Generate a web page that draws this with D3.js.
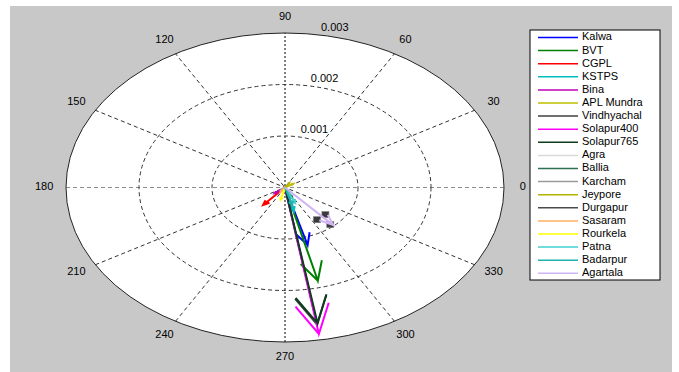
<!DOCTYPE html>
<html><head><meta charset="utf-8">
<script src="https://cdn.jsdelivr.net/npm/d3@7"></script>
<style>
html,body{margin:0;padding:0;background:#fff;}
svg{display:block;font-family:"Liberation Sans",Arial,sans-serif;}
</style></head>
<body>
<svg id="chart" width="679" height="372"></svg>
<script>
// ---- data (compass vectors: real / imaginary parts) ----
const names = ["Kalwa","BVT","CGPL","KSTPS","Bina","APL Mundra","Vindhyachal","Solapur400","Solapur765","Agra","Ballia","Karcham","Jeypore","Durgapur","Sasaram","Rourkela","Patna","Badarpur","Agartala"];
const reParts = [0.00031, 0.00045, -0.00030, 0.00012, -0.00014, 0.00011, 0.00044, 0.000464, 0.000446, -0.00003, 0.00010, -0.00005, 0.00006, 0.00062, -0.00006, -0.00006, 0.00014, 0.00010, 0.00066];
const imParts = [-0.001117, -0.00181, -0.00034, -0.00046, -0.00011, 0.00007, -0.00266, -0.002845, -0.002637, -0.00002, -0.00020, -0.00004, 0.00009, -0.00072, -0.00008, -0.00024, -0.00030, -0.00034, -0.00073];
const colors = ["#0000ff","#008000","#ff0000","#00bfbf","#bf00bf","#bfbf00","#404040","#ff00ff","#0d3d1e","#d9d9d9","#2e7050","#9a9a9a","#b4b400","#4a4a4a","#ffb066","#ffff00","#40d0d0","#20b2b2","#d0b4f4"];
const markerSeries = ["Durgapur"];
const rTicks = [0.001, 0.002, 0.003];
const angleTicks = [0, 30, 60, 90, 120, 150, 180, 210, 240, 270, 300, 330];

// ---- layout ----
const svg = d3.select("#chart");
const rmax = 0.003;
const cx = 285, cy = 187.5, rx = 219, ry = 154.5;
const xs = d3.scaleLinear().domain([-rmax, rmax]).range([cx - rx, cx + rx]);
const ys = d3.scaleLinear().domain([-rmax, rmax]).range([cy + ry, cy - ry]);

svg.append("rect").attr("x", 10).attr("y", 6).attr("width", 662).attr("height", 366).attr("fill", "#c8c8c8");

// white polar background
svg.append("ellipse").attr("cx", xs(0)).attr("cy", ys(0))
  .attr("rx", xs(rmax) - xs(0)).attr("ry", ys(0) - ys(rmax)).attr("fill", "#fff");

// spokes
const g = svg.append("g");
[30, 60, 90, 120, 150, 180].forEach(a => {
  const t = a * Math.PI / 180;
  const vert = a === 90, horiz = a === 180;
  g.append("line")
    .attr("x1", xs(-rmax * Math.cos(t))).attr("y1", ys(-rmax * Math.sin(t)))
    .attr("x2", xs(rmax * Math.cos(t))).attr("y2", ys(rmax * Math.sin(t)))
    .attr("stroke", vert ? "#000" : (horiz ? "#8c8c8c" : "#333"))
    .attr("stroke-width", 1)
    .attr("stroke-dasharray", vert ? "2,2" : "4,3");
});
// rings
rTicks.forEach((r, i) => {
  const outer = i === rTicks.length - 1;
  g.append("ellipse").attr("cx", xs(0)).attr("cy", ys(0))
    .attr("rx", xs(r) - xs(0)).attr("ry", ys(0) - ys(r))
    .attr("fill", "none")
    .attr("stroke", outer ? "#222" : "#333")
    .attr("stroke-width", 1)
    .attr("stroke-dasharray", outer ? null : "4,3");
});
// radial labels at 82 deg
const t82 = 82 * Math.PI / 180;
rTicks.forEach(r => {
  const rr = r + rmax / 60;
  g.append("text")
    .attr("x", xs(rr * Math.cos(t82)) + 5).attr("y", ys(rr * Math.sin(t82)) - 4)
    .attr("font-size", 11).attr("fill", "#000").attr("dominant-baseline", "middle")
    .text(d3.format(".3f")(r));
});

// compass arrows (MATLAB style: 0 -> z -> .8z+.08iz -> z -> .8z-.08iz)
const arrowX = [0, 1, 0.8, 1, 0.8], arrowY = [0, 0, 0.08, 0, -0.08];
const line = d3.line().x(d => xs(d[0])).y(d => ys(d[1]));
const arrows = svg.append("g");
names.forEach((n, i) => {
  const u = reParts[i], v = imParts[i];
  const pts = arrowX.map((ax, k) => {
    const ay = arrowY[k];
    return [ax * u - ay * v, ax * v + ay * u];
  });
  if (markerSeries.includes(n)) {
    // drawn as square vertex markers
    [pts[1], pts[2], pts[4]].forEach(p => {
      arrows.append("rect").attr("x", xs(p[0]) - 3.5).attr("y", ys(p[1]) - 3)
        .attr("width", 7).attr("height", 6)
        .attr("fill", "#3a3a3a").attr("stroke", "#777").attr("stroke-width", 0.6);
    });
  } else {
    arrows.append("path").attr("d", line(pts))
      .attr("fill", "none").attr("stroke", colors[i])
      .attr("stroke-width", 2).attr("stroke-linejoin", "miter");
  }
});

// legend
const lg = svg.append("g");
const lx = 530, ly = 30, lw = 130, lh = 250;
lg.append("rect").attr("x", lx).attr("y", ly).attr("width", lw).attr("height", lh)
  .attr("fill", "#fff").attr("stroke", "#000").attr("stroke-width", 1);
names.forEach((n, i) => {
  const y = ly + 7.5 + i * 13.1;
  lg.append("line").attr("x1", lx + 8).attr("x2", lx + 48).attr("y1", y).attr("y2", y)
    .attr("stroke", colors[i]).attr("stroke-width", 1.5);
  lg.append("text").attr("x", lx + 52).attr("y", y).attr("dominant-baseline", "middle")
    .attr("font-size", 11).attr("fill", "#000").text(n);
});

// angle labels
angleTicks.forEach(a => {
  const t = a * Math.PI / 180;
  const rr = rmax * 1.1;
  svg.append("text")
    .attr("x", xs(rr * Math.cos(t)) - (a === 0 ? 3 : 0)).attr("y", ys(rr * Math.sin(t)))
    .attr("font-size", 11).attr("fill", "#000")
    .attr("text-anchor", "middle").attr("dominant-baseline", "middle")
    .text(a);
});
</script>
</body></html>
